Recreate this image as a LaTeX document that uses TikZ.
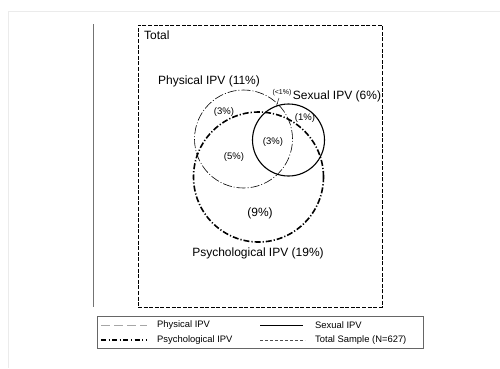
\documentclass[tikz,border=0pt]{standalone}
\usepackage{fontspec}
\setmainfont{Liberation Sans}
\begin{document}
\begin{tikzpicture}[x=1pt,y=-1pt,
  lbl/.style={font=\fontsize{12}{14}\selectfont, inner sep=0pt},
  small/.style={font=\fontsize{9.5}{11}\selectfont, inner sep=0pt},
  tiny/.style={font=\fontsize{7}{8}\selectfont, inner sep=0pt},
  leg/.style={font=\fontsize{9.4}{11}\selectfont, inner sep=0pt, anchor=west},
  phys/.style={draw=black, line width=0.6pt, dash pattern=on 9pt off 2pt on 1pt off 2pt},
  physleg/.style={draw=black!35, line width=0.6pt, dash pattern=on 9pt off 4pt},
  psych/.style={draw=black, line width=1.6pt, dash pattern=on 6pt off 2pt on 1.2pt off 2pt},
  sexual/.style={draw=black, line width=1.1pt},
  totalbox/.style={draw=black, line width=0.8pt, dash pattern=on 4pt off 1.6pt},
  totalleg/.style={draw=black!70, line width=0.5pt, dash pattern=on 3pt off 2pt}]
\useasboundingbox (0,0) rectangle (500,368);
\fill[white] (0,0) rectangle (500,368);
% faint page frame
\coordinate (f1) at (8,11); \coordinate (f2) at (500,11); \coordinate (f3) at (8,368);
\draw[black!8, line width=0.6pt] (f3) -- (f1) -- (f2);
% vertical rule
\coordinate (v1) at (93,24); \coordinate (v2) at (93,307);
\draw[black!55, line width=0.8pt] (v1) -- (v2);
% total box
\node[totalbox, minimum width=244pt, minimum height=282pt, inner sep=0pt] (total) at (260,166) {};
\node[lbl, anchor=north west] (totaltxt) at (144,31) {Total};
% circles
\node[phys, circle, minimum size=98pt, inner sep=0pt] (physc) at (243.5,139) {};
\node[psych, circle, minimum size=130pt, inner sep=0pt] (psychc) at (258.5,177) {};
\node[sexual, circle, minimum size=72pt, inner sep=0pt] (sexc) at (288.5,140) {};
% labels
\node[lbl] (physl) at (209,81) {Physical IPV (11\%)};
\node[lbl] (sexl) at (337,96) {Sexual IPV (6\%)};
\node[lbl] (psychl) at (258,253) {Psychological IPV (19\%)};
\node[tiny] (lt1) at (282,93) {(<1\%)};
\coordinate (tk) at (276,107);
\draw[black!80, line width=0.5pt] (279,98) -- (tk);
\node[small] (p3a) at (224,112) {(3\%)};
\node[small] (p1) at (305,118) {(1\%)};
\node[small] (p3b) at (273,142) {(3\%)};
\node[small] (p5) at (234,157) {(5\%)};
\node[lbl] (p9) at (260,213) {(9\%)};
% legend
\node[draw=black!60, line width=0.6pt, minimum width=326pt, minimum height=32pt, inner sep=0pt] (legend) at (260,332) {};
\coordinate (a1) at (101,325); \coordinate (a2) at (147,325);
\draw[physleg] (a1) -- (a2);
\node[leg] (l1) at (157,325) {Physical IPV};
\coordinate (b1) at (101,340); \coordinate (b2) at (147,340);
\draw[draw=black, line width=1.4pt, dash pattern=on 5pt off 2.5pt on 1.2pt off 2.5pt] (b1) -- (b2);
\node[leg] (l2) at (157,340) {Psychological IPV};
\coordinate (c1) at (260,325); \coordinate (c2) at (303,325);
\draw[black, line width=0.8pt] (c1) -- (c2);
\node[leg] (l3) at (315,325) {Sexual IPV};
\coordinate (d1) at (260,340); \coordinate (d2) at (305,340);
\draw[totalleg] (d1) -- (d2);
\node[leg] (l4) at (315,340) {Total Sample (N=627)};
\end{tikzpicture}
\end{document}
